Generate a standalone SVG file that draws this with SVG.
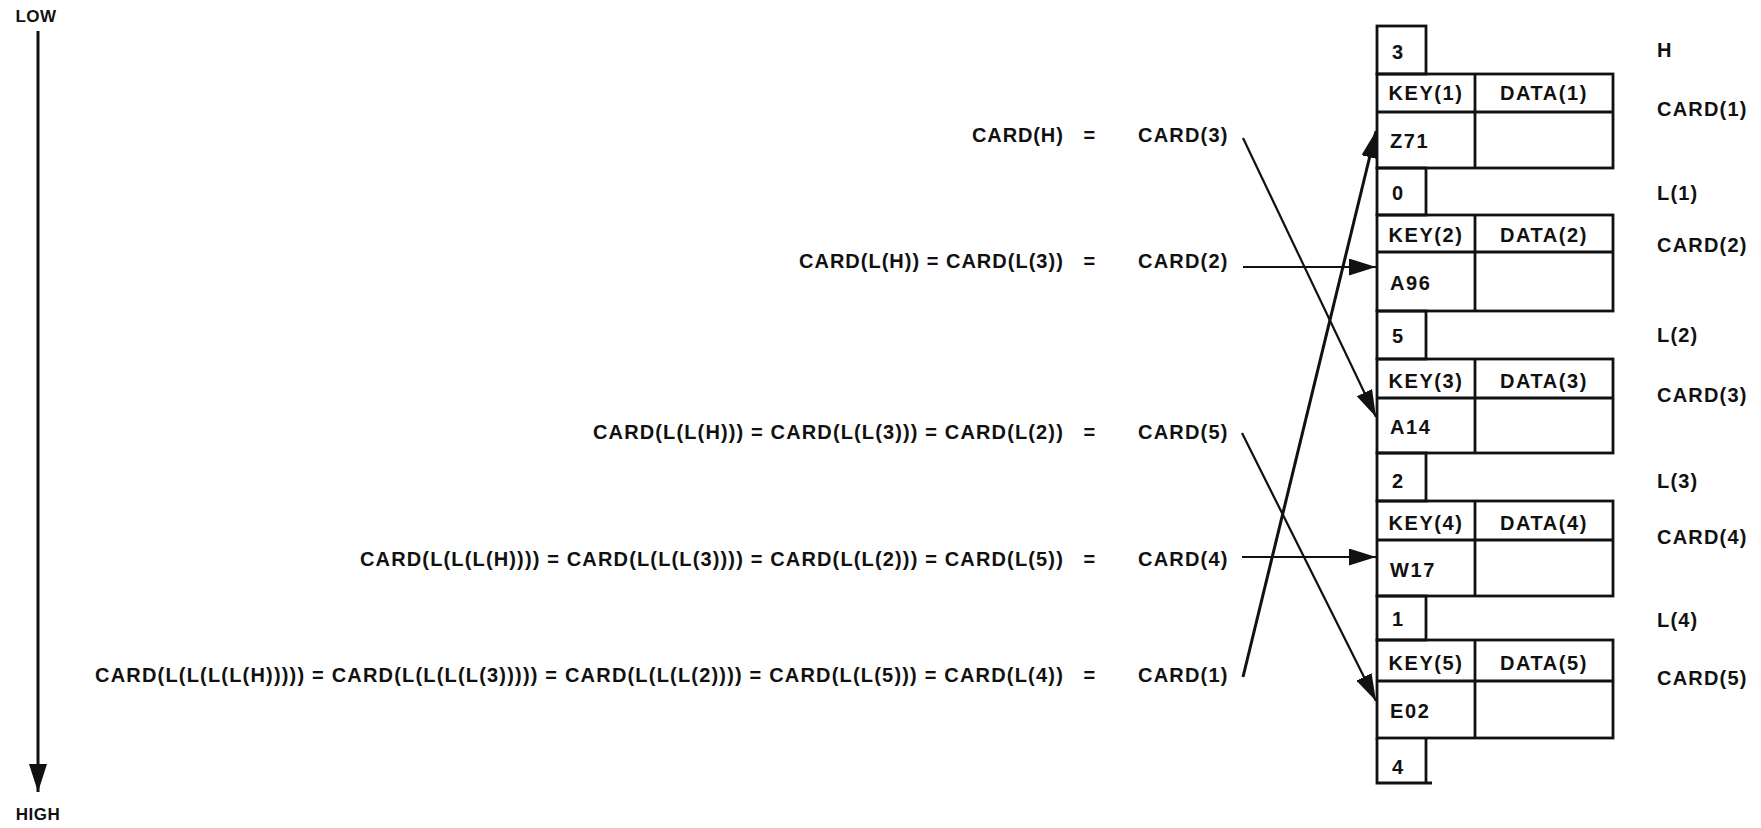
<svg xmlns="http://www.w3.org/2000/svg" width="1761" height="828" viewBox="0 0 1761 828">
<style>
text{font-family:"Liberation Sans",Arial,sans-serif;font-weight:bold;font-size:20px;fill:#111;letter-spacing:1.2px}
.box{fill:none;stroke:#111;stroke-width:2.8}
.ln{fill:none;stroke:#111;stroke-width:2.8}
.mid{text-anchor:middle}
.end{text-anchor:end}
.conn{fill:none;stroke:#111;stroke-width:2.2}
.thick{stroke-width:3}
.bx{letter-spacing:1.6px}
</style>
<defs>
<marker id="arr" markerUnits="userSpaceOnUse" viewBox="0 0 27 17" refX="27" refY="8.5" markerWidth="27" markerHeight="17" orient="auto">
<path d="M0,0 L27,8.5 L0,17 Z" fill="#111"/>
</marker>
<marker id="axisArr" markerUnits="userSpaceOnUse" viewBox="0 0 28 18" refX="28" refY="9" markerWidth="28" markerHeight="18" orient="auto">
<path d="M0,0 L28,9 L0,18 Z" fill="#111"/>
</marker>
</defs>
<rect width="1761" height="828" fill="#fff"/>

<g id="axis">
<text x="36" y="22" class="mid" style="font-size:17px;letter-spacing:0.5px">LOW</text>
<line x1="38" y1="31" x2="38" y2="792" stroke="#111" stroke-width="3" marker-end="url(#axisArr)"/>
<text x="38" y="820" class="mid" style="font-size:17px;letter-spacing:0.5px">HIGH</text>
</g>

<g id="formulas">
<g id="row1"><text x="1064" y="142" class="end" textLength="92" lengthAdjust="spacing">CARD(H)</text><text x="1090" y="142" class="mid">=</text><text x="1138" y="142">CARD(3)</text></g>
<g id="row2"><text x="1064" y="268" class="end" textLength="265" lengthAdjust="spacing">CARD(L(H)) = CARD(L(3))</text><text x="1090" y="268" class="mid">=</text><text x="1138" y="268">CARD(2)</text></g>
<g id="row3"><text x="1064" y="439" class="end" textLength="471" lengthAdjust="spacing">CARD(L(L(H))) = CARD(L(L(3))) = CARD(L(2))</text><text x="1090" y="439" class="mid">=</text><text x="1138" y="439">CARD(5)</text></g>
<g id="row4"><text x="1064" y="566" class="end" textLength="704" lengthAdjust="spacing">CARD(L(L(L(H)))) = CARD(L(L(L(3)))) = CARD(L(L(2))) = CARD(L(5))</text><text x="1090" y="566" class="mid">=</text><text x="1138" y="566">CARD(4)</text></g>
<g id="row5"><text x="1064" y="682" class="end" textLength="969" lengthAdjust="spacing">CARD(L(L(L(L(H))))) = CARD(L(L(L(L(3))))) = CARD(L(L(L(2)))) = CARD(L(L(5))) = CARD(L(4))</text><text x="1090" y="682" class="mid">=</text><text x="1138" y="682">CARD(1)</text></g>
</g>

<g id="ptrH"><rect class="box" x="1377" y="26" width="49" height="48"/><text x="1392" y="59">3</text></g>
<g id="card1"><rect class="box" x="1377" y="74" width="236" height="94"/><line class="ln" x1="1377" y1="112" x2="1613" y2="112"/><line class="ln" x1="1475" y1="74" x2="1475" y2="168"/><text x="1426" y="100" class="mid bx">KEY(1)</text><text x="1544" y="100" class="mid bx">DATA(1)</text><text x="1390" y="148" class="bx">Z71</text></g>
<g id="ptrL1"><rect class="box" x="1377" y="168" width="49" height="47"/><text x="1392" y="200">0</text></g>
<g id="card2"><rect class="box" x="1377" y="215" width="236" height="96"/><line class="ln" x1="1377" y1="252" x2="1613" y2="252"/><line class="ln" x1="1475" y1="215" x2="1475" y2="311"/><text x="1426" y="242" class="mid bx">KEY(2)</text><text x="1544" y="242" class="mid bx">DATA(2)</text><text x="1390" y="290" class="bx">A96</text></g>
<g id="ptrL2"><rect class="box" x="1377" y="311" width="49" height="48"/><text x="1392" y="343">5</text></g>
<g id="card3"><rect class="box" x="1377" y="359" width="236" height="94"/><line class="ln" x1="1377" y1="398" x2="1613" y2="398"/><line class="ln" x1="1475" y1="359" x2="1475" y2="453"/><text x="1426" y="388" class="mid bx">KEY(3)</text><text x="1544" y="388" class="mid bx">DATA(3)</text><text x="1390" y="434" class="bx">A14</text></g>
<g id="ptrL3"><rect class="box" x="1377" y="453" width="49" height="48"/><text x="1392" y="488">2</text></g>
<g id="card4"><rect class="box" x="1377" y="501" width="236" height="95"/><line class="ln" x1="1377" y1="540" x2="1613" y2="540"/><line class="ln" x1="1475" y1="501" x2="1475" y2="596"/><text x="1426" y="530" class="mid bx">KEY(4)</text><text x="1544" y="530" class="mid bx">DATA(4)</text><text x="1390" y="577" class="bx">W17</text></g>
<g id="ptrL4"><rect class="box" x="1377" y="596" width="49" height="44"/><text x="1392" y="626">1</text></g>
<g id="card5"><rect class="box" x="1377" y="640" width="236" height="98"/><line class="ln" x1="1377" y1="681" x2="1613" y2="681"/><line class="ln" x1="1475" y1="640" x2="1475" y2="738"/><text x="1426" y="670" class="mid bx">KEY(5)</text><text x="1544" y="670" class="mid bx">DATA(5)</text><text x="1390" y="718" class="bx">E02</text></g>
<g id="ptrL5"><path class="ln" d="M1377,738 V783 H1432 M1426,738 V783"/><text x="1392" y="774">4</text></g>

<g id="labels">
<text x="1657" y="57">H</text>
<text x="1657" y="116">CARD(1)</text>
<text x="1657" y="200">L(1)</text>
<text x="1657" y="252">CARD(2)</text>
<text x="1657" y="342">L(2)</text>
<text x="1657" y="402">CARD(3)</text>
<text x="1657" y="488">L(3)</text>
<text x="1657" y="544">CARD(4)</text>
<text x="1657" y="627">L(4)</text>
<text x="1657" y="685">CARD(5)</text>
</g>

<g id="connectors">
<line class="conn" x1="1243" y1="138" x2="1376" y2="417" marker-end="url(#arr)"/>
<line class="conn" x1="1243" y1="267" x2="1376" y2="267" marker-end="url(#arr)"/>
<line class="conn" x1="1242" y1="433" x2="1376" y2="701" marker-end="url(#arr)"/>
<line class="conn" x1="1242" y1="557" x2="1376" y2="557" marker-end="url(#arr)"/>
<line class="conn thick" x1="1243" y1="677" x2="1376" y2="131" marker-end="url(#arr)"/>
</g>
</svg>
